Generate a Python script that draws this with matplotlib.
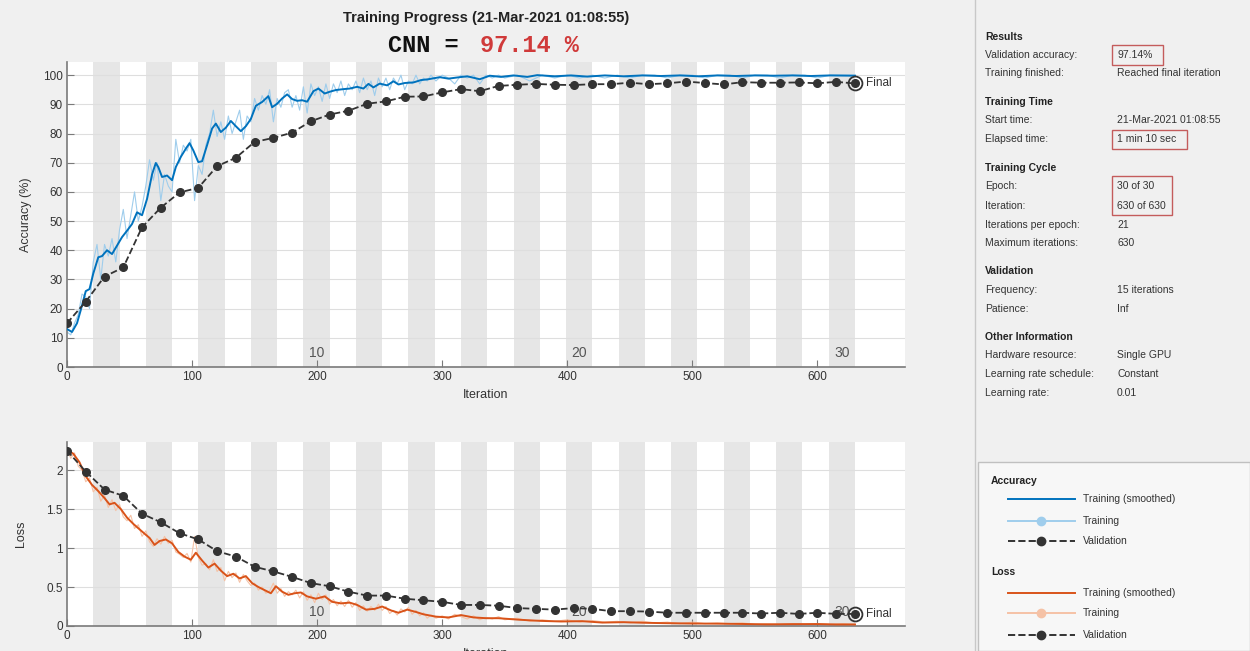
import numpy as np
import matplotlib
matplotlib.use('Agg')
import matplotlib.pyplot as plt
import matplotlib.patches as patches
from matplotlib.lines import Line2D

plt.rcParams['font.family'] = ['Liberation Sans', 'DejaVu Sans']

W, H = 1250, 651

# ---- data ----
# raw training values (sampled)
raw_iter = (list(range(0, 292, 3)) + list(range(295, 351, 5))
            + list(range(360, 631, 10)))
raw_acc = [
    12, 11, 15, 18, 25, 24, 20, 36, 42, 30,
    42, 38, 44, 36, 47, 54, 44, 52, 60, 50,
    55, 62, 71, 64, 70, 57, 66, 62, 60, 78,
    70, 76, 74, 78, 57, 69, 66, 76, 80, 88,
    79, 84, 78, 86, 80, 84, 88, 78, 86, 84,
    92, 88, 93, 90, 95, 84, 92, 89, 94, 95,
    89, 93, 88, 96, 87, 97, 93, 96, 91, 97,
    92, 97, 94, 98, 93, 97, 95, 98, 94, 99,
    95, 98, 93, 99, 96, 99, 95, 99, 97, 100,
    95, 98, 97, 100, 97, 99, 98, 100,
    98, 100, 99, 97, 100, 99, 100, 97, 100, 99, 100, 99,
    100, 98, 100, 99, 100, 99, 100, 99, 100, 99, 100, 100, 99, 100,
    100, 99, 100, 100, 99, 100, 100, 99, 100, 100, 99, 100, 100, 100]
raw_loss = [
    2.28, 2.15, 2.22, 2.05, 2.00, 1.85, 1.90, 1.72, 1.78, 1.60,
    1.68, 1.52, 1.62, 1.48, 1.56, 1.40, 1.35, 1.42, 1.25, 1.30,
    1.15, 1.22, 1.08, 1.02, 1.12, 1.05, 1.15, 1.06, 1.10, 0.95,
    0.92, 0.88, 0.93, 0.82, 1.15, 0.88, 0.78, 0.80, 0.72, 0.85,
    0.70, 0.75, 0.58, 0.70, 0.62, 0.68, 0.56, 0.66, 0.58, 0.52,
    0.55, 0.46, 0.50, 0.42, 0.45, 0.55, 0.42, 0.48, 0.38, 0.44,
    0.40, 0.46, 0.36, 0.44, 0.33, 0.40, 0.30, 0.42, 0.34, 0.40,
    0.28, 0.34, 0.26, 0.32, 0.25, 0.33, 0.24, 0.30, 0.20, 0.26,
    0.19, 0.25, 0.20, 0.28, 0.20, 0.25, 0.16, 0.20, 0.14, 0.22,
    0.18, 0.24, 0.15, 0.20, 0.13, 0.17, 0.10, 0.14,
    0.10, 0.13, 0.09, 0.15, 0.12, 0.09, 0.13, 0.08, 0.11, 0.09, 0.12, 0.08,
    0.10, 0.06, 0.08, 0.06, 0.08, 0.05, 0.07, 0.05, 0.06, 0.04, 0.06, 0.04,
    0.05, 0.03, 0.05, 0.03, 0.04, 0.03, 0.04, 0.02, 0.03, 0.02, 0.03, 0.02,
    0.03, 0.02, 0.03, 0.02]

# smoothed training curves
sm_acc_iter = [0, 4, 8, 11, 15, 18, 21, 25, 28, 32, 36, 40, 44, 48, 52, 56, 60,
               64, 68, 71, 73, 76, 80, 84, 87, 91, 95, 98, 101, 105, 108, 112,
               116, 119, 123, 127, 131, 135, 139, 143, 147, 151, 156, 161, 164,
               168, 172, 176, 180, 184, 188, 192, 197, 201, 206, 210, 215, 221,
               226, 232, 237, 241, 245, 250, 256, 261, 265, 270, 277, 283, 289,
               298, 305, 312, 320, 330, 338, 347, 357, 368, 376, 390, 403, 416,
               430, 445, 460, 475, 490, 505, 520, 535, 550, 565, 580, 595, 610, 630]
sm_acc = [13, 12, 15, 19.5, 26, 26.7, 32, 37.6, 38, 40, 38.7, 41.6, 44.5, 46.7,
          49, 53, 52, 57.6, 66, 69.9, 68.5, 65.1, 65.6, 64, 68.5, 72, 74.8, 76.7,
          74.2, 70.2, 70.5, 76, 81.7, 83.4, 80.5, 82, 84.3, 82.5, 80.8, 82.5, 85,
          89.5, 90.8, 92.8, 89, 90.2, 92, 93.4, 91.8, 91.2, 91.4, 90.9, 94.5,
          95.4, 93.7, 94.3, 94.9, 95.2, 95.4, 96, 95.4, 97, 95.8, 97.1, 96.5,
          97.9, 96.8, 97.3, 97.5, 98.3, 98.6, 99.3, 98.8, 99.2, 99.6, 98.6, 99.8,
          99.4, 99.9, 99.4, 100, 99.6, 99.9, 99.5, 99.9, 99.6, 99.9, 99.7, 99.9,
          99.6, 99.9, 99.7, 99.9, 99.8, 99.9, 99.7, 99.9, 99.8]
sm_loss_iter = [0, 5, 10, 15, 20, 25, 30, 34, 38, 43, 48, 53, 58, 63, 66, 70, 74,
                79, 84, 89, 94, 99, 103, 108, 113, 118, 123, 128, 133, 138, 143,
                148, 153, 158, 163, 167, 172, 177, 182, 187, 192, 199, 206, 212,
                219, 226, 232, 239, 246, 252, 259, 265, 272, 279, 285, 295, 305,
                315, 325, 335, 345, 362, 378, 395, 412, 428, 445, 465, 480, 500,
                520, 540, 560, 580, 600, 615, 630]
sm_loss = [2.26, 2.21, 2.10, 1.92, 1.81, 1.73, 1.64, 1.56, 1.58, 1.50, 1.39,
           1.31, 1.24, 1.17, 1.13, 1.04, 1.09, 1.11, 1.06, 0.95, 0.89, 0.85,
           0.94, 0.84, 0.75, 0.80, 0.71, 0.64, 0.67, 0.61, 0.64, 0.55, 0.50,
           0.46, 0.42, 0.51, 0.44, 0.40, 0.42, 0.43, 0.38, 0.35, 0.38, 0.31,
           0.29, 0.30, 0.27, 0.21, 0.22, 0.25, 0.20, 0.17, 0.21, 0.18, 0.15,
           0.12, 0.11, 0.14, 0.11, 0.10, 0.10, 0.08, 0.066, 0.058, 0.062, 0.044,
           0.049, 0.04, 0.036, 0.032, 0.03, 0.026, 0.021, 0.024, 0.025, 0.02, 0.02]

# validation every 15 iterations
val_iter = list(range(0, 631, 15))
val_acc = [15.0, 22.4, 31.0, 34.1, 47.9, 54.6, 59.8, 61.4, 68.8, 71.7, 77.1,
           78.5, 80.3, 84.2, 86.5, 87.8, 90.2, 91.0, 92.6, 92.7, 94.1, 95.2,
           94.5, 96.3, 96.7, 97.0, 96.7, 96.6, 96.9, 96.9, 97.4, 96.9, 97.2,
           97.8, 97.3, 96.8, 97.6, 97.4, 97.4, 97.5, 97.2, 97.7, 97.14]
val_loss = [2.25, 1.98, 1.75, 1.67, 1.44, 1.33, 1.19, 1.11, 0.96, 0.89, 0.76,
            0.70, 0.63, 0.55, 0.51, 0.44, 0.39, 0.39, 0.35, 0.33, 0.31, 0.27,
            0.27, 0.26, 0.23, 0.22, 0.21, 0.23, 0.22, 0.19, 0.19, 0.185, 0.17,
            0.17, 0.17, 0.17, 0.17, 0.16, 0.17, 0.155, 0.17, 0.155, 0.155]

n_epochs = 30
iter_per_epoch = 21
epoch_labels = [10, 20, 30]

info_rows = [
    ('Results', None),
    ('Validation accuracy:', '97.14%'),
    ('Training finished:', 'Reached final iteration'),
    ('Training Time', None),
    ('Start time:', '21-Mar-2021 01:08:55'),
    ('Elapsed time:', '1 min 10 sec'),
    ('Training Cycle', None),
    ('Epoch:', '30 of 30'),
    ('Iteration:', '630 of 630'),
    ('Iterations per epoch:', '21'),
    ('Maximum iterations:', '630'),
    ('Validation', None),
    ('Frequency:', '15 iterations'),
    ('Patience:', 'Inf'),
    ('Other Information', None),
    ('Hardware resource:', 'Single GPU'),
    ('Learning rate schedule:', 'Constant'),
    ('Learning rate:', '0.01'),
]
info_y = [37, 55, 73, 102, 120, 139, 168, 186, 206, 225, 243, 271, 290, 309,
          337, 355, 374, 393]

BLUE = '#0072BD'
BLUE_RAW = '#9fcdec'
ORANGE = '#D95319'
ORANGE_RAW = '#f5c2a6'
VAL = '#333333'
BAND = '#e6e6e6'
AXC = '#7a7a7a'


def fx(px):
    return px / W


def fy(py):
    return 1 - py / H


def style_axes(ax, ylim, yticks, ylabels):
    ax.set_facecolor('white')
    for k in range(1, n_epochs, 2):
        ax.axvspan(k * iter_per_epoch, (k + 1) * iter_per_epoch,
                   color=BAND, lw=0, zorder=0)
    ax.set_xlim(0, 670)
    ax.set_ylim(*ylim)
    ax.set_xticks(range(0, 601, 100))
    ax.set_yticks(yticks)
    ax.set_yticklabels(ylabels)
    ax.yaxis.grid(True, color='#dedede', lw=0.8)
    ax.set_axisbelow(True)
    for s in ['top', 'right']:
        ax.spines[s].set_visible(False)
    for s in ['left', 'bottom']:
        ax.spines[s].set_color(AXC)
        ax.spines[s].set_linewidth(1.2)
    ax.tick_params(direction='in', length=5, color=AXC, labelsize=8.5,
                   labelcolor='#333333', pad=3)
    for e in epoch_labels:
        ax.annotate(str(e), xy=((e - 0.5) * iter_per_epoch, 0),
                    xycoords=('data', 'axes fraction'), xytext=(0, 5),
                    textcoords='offset points', ha='center', va='bottom',
                    fontsize=10, color='#555555')


fig = plt.figure(figsize=(W / 100, H / 100), dpi=100, facecolor='#f0f0f0')

ax1 = fig.add_axes([fx(67), fy(367), fx(905) - fx(67), fy(62) - fy(367)])
ax2 = fig.add_axes([fx(67), fy(626), fx(905) - fx(67), fy(442) - fy(626)])

style_axes(ax1, (0, 104.5), range(0, 101, 10), [str(v) for v in range(0, 101, 10)])
style_axes(ax2, (0, 2.36), [0, 0.5, 1, 1.5, 2], ['0', '0.5', '1', '1.5', '2'])

# accuracy
ax1.plot(raw_iter, raw_acc, color=BLUE_RAW, lw=0.8, zorder=2)
ax1.plot(sm_acc_iter, sm_acc, color=BLUE, lw=1.4, zorder=3)
ax1.plot(val_iter, val_acc, '--o', color=VAL, lw=1.3, ms=5.5, zorder=4)
ax1.plot(val_iter[-1], val_acc[-1], 'o', ms=10, mfc='none', mec=VAL, mew=1.3, zorder=5)
ax1.annotate('Final', xy=(val_iter[-1], val_acc[-1]), xytext=(8, 0),
             textcoords='offset points', va='center', fontsize=8.5, color='#333333')
ax1.set_xlabel('Iteration', fontsize=9, color='#333333', labelpad=4)
ax1.set_ylabel('Accuracy (%)', fontsize=9, color='#333333', labelpad=8)

# loss
ax2.plot(raw_iter, raw_loss, color=ORANGE_RAW, lw=0.8, zorder=2)
ax2.plot(sm_loss_iter, sm_loss, color=ORANGE, lw=1.4, zorder=3)
ax2.plot(val_iter, val_loss, '--o', color=VAL, lw=1.3, ms=5.5, zorder=4)
ax2.plot(val_iter[-1], val_loss[-1], 'o', ms=10, mfc='none', mec=VAL, mew=1.3, zorder=5)
ax2.annotate('Final', xy=(val_iter[-1], val_loss[-1]), xytext=(8, 0),
             textcoords='offset points', va='center', fontsize=8.5, color='#333333')
ax2.set_xlabel('Iteration', fontsize=9, color='#333333', labelpad=4)
ax2.set_ylabel('Loss', fontsize=9, color='#333333', labelpad=14)

# titles
fig.text(fx(486), fy(18), 'Training Progress (21-Mar-2021 01:08:55)',
         ha='center', va='center', fontsize=10.5, fontweight='bold', color='#222222')
fig.text(fx(459), fy(45), 'CNN =', ha='right', va='center', fontsize=17,
         fontweight='bold', family=['Liberation Mono', 'DejaVu Sans Mono'], color='#111111')
fig.text(fx(480), fy(45), '97.14 %', ha='left', va='center', fontsize=17,
         fontweight='bold', family=['Liberation Mono', 'DejaVu Sans Mono'], color='#d03a3a')

# right info panel
fig.add_artist(Line2D([fx(975), fx(975)], [0, 1], transform=fig.transFigure,
                      color='#c8c8c8', lw=1))
for (label, value), y in zip(info_rows, info_y):
    if value is None:
        fig.text(fx(985), fy(y), label, ha='left', va='center', fontsize=7.5,
                 fontweight='bold', color='#222222')
    else:
        fig.text(fx(985), fy(y), label, ha='left', va='center', fontsize=7.5,
                 color='#333333')
        fig.text(fx(1117), fy(y), value, ha='left', va='center', fontsize=7.5,
                 color='#333333')

for x0, y0, x1, y1 in [(1112, 45, 1163, 65), (1112, 130, 1187, 149), (1112, 176, 1172, 215)]:
    fig.add_artist(patches.Rectangle((fx(x0), fy(y1)), fx(x1) - fx(x0), fy(y0) - fy(y1),
                                     transform=fig.transFigure, fill=False,
                                     edgecolor='#c45c5c', lw=1))

# legend panel
fig.add_artist(patches.Rectangle((fx(978), 0), fx(1250) - fx(978), fy(462),
                                 transform=fig.transFigure, facecolor='#f7f7f7',
                                 edgecolor='#c0c0c0', lw=1))
legend_groups = [
    ('Accuracy', 481, [(499, BLUE, '-', None, 'Training (smoothed)'),
                       (521, BLUE_RAW, '-', BLUE_RAW, 'Training'),
                       (541, VAL, '--', VAL, 'Validation')]),
    ('Loss', 572, [(593, ORANGE, '-', None, 'Training (smoothed)'),
                   (613, ORANGE_RAW, '-', ORANGE_RAW, 'Training'),
                   (635, VAL, '--', VAL, 'Validation')]),
]
for title, ty, items in legend_groups:
    fig.text(fx(991), fy(ty), title, ha='left', va='center', fontsize=7.5,
             fontweight='bold', color='#222222')
    for y, c, ls, mc, lab in items:
        fig.add_artist(Line2D([fx(1008), fx(1075)], [fy(y), fy(y)],
                              transform=fig.transFigure, color=c, ls=ls, lw=1.4))
        if mc is not None:
            fig.add_artist(Line2D([fx(1041)], [fy(y)], transform=fig.transFigure,
                                  marker='o', ms=6, color=mc, ls='none'))
        fig.text(fx(1083), fy(y), lab, ha='left', va='center', fontsize=7.5,
                 color='#333333')

fig.savefig('out.png', dpi=100, facecolor=fig.get_facecolor())
